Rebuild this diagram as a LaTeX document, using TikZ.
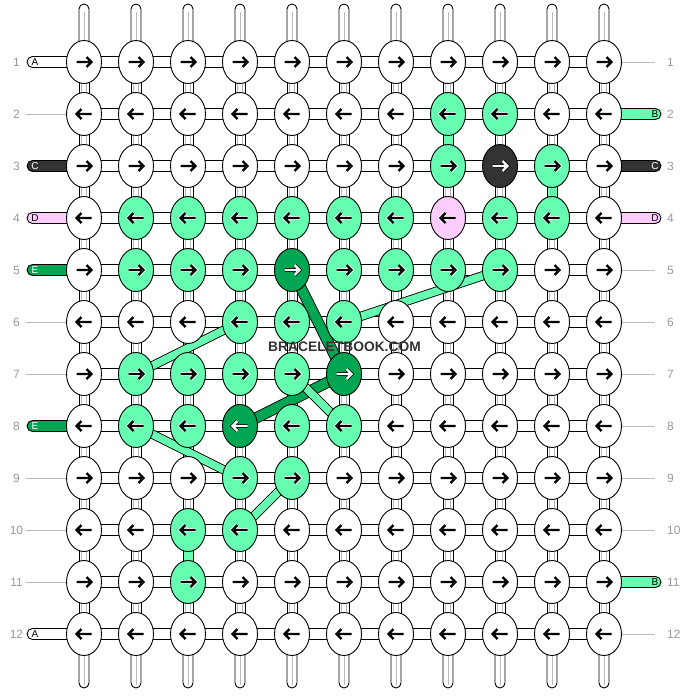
\documentclass[tikz,border=0pt]{standalone}
\usepackage{fontspec}
\setmainfont{Liberation Sans}
\usetikzlibrary{calc,shapes.geometric}
\definecolor{lg}{HTML}{66FFB2}
\definecolor{dg}{HTML}{00A651}
\definecolor{bk}{HTML}{333333}
\definecolor{pk}{HTML}{FFCCFF}
\definecolor{wh}{HTML}{FFFFFF}
\definecolor{numgray}{HTML}{999999}
\definecolor{guidegray}{HTML}{BBBBBB}
\definecolor{wmgray}{HTML}{333333}
% knot colours
\newcommand\setkc[3]{\expandafter\def\csname kc-#1-#2\endcsname{#3}}
\setkc{2}{8}{lg}\setkc{2}{9}{lg}
\setkc{3}{8}{lg}\setkc{3}{9}{bk}\setkc{3}{10}{lg}
\setkc{4}{2}{lg}\setkc{4}{3}{lg}\setkc{4}{4}{lg}\setkc{4}{5}{lg}\setkc{4}{6}{lg}\setkc{4}{7}{lg}\setkc{4}{8}{pk}\setkc{4}{9}{lg}\setkc{4}{10}{lg}
\setkc{5}{2}{lg}\setkc{5}{3}{lg}\setkc{5}{4}{lg}\setkc{5}{5}{dg}\setkc{5}{6}{lg}\setkc{5}{7}{lg}\setkc{5}{8}{lg}\setkc{5}{9}{lg}
\setkc{6}{4}{lg}\setkc{6}{5}{lg}\setkc{6}{6}{lg}
\setkc{7}{2}{lg}\setkc{7}{3}{lg}\setkc{7}{4}{lg}\setkc{7}{5}{lg}\setkc{7}{6}{dg}
\setkc{8}{2}{lg}\setkc{8}{3}{lg}\setkc{8}{4}{dg}\setkc{8}{5}{lg}\setkc{8}{6}{lg}
\setkc{9}{4}{lg}\setkc{9}{5}{lg}
\setkc{10}{3}{lg}\setkc{10}{4}{lg}
\setkc{11}{3}{lg}
% arrow colours per knot colour
\expandafter\def\csname af-wh\endcsname{black}\expandafter\def\csname ah-wh\endcsname{white}
\expandafter\def\csname af-lg\endcsname{black}\expandafter\def\csname ah-lg\endcsname{white}
\expandafter\def\csname af-pk\endcsname{black}\expandafter\def\csname ah-pk\endcsname{white}
\expandafter\def\csname af-dg\endcsname{white}\expandafter\def\csname ah-dg\endcsname{black}
\expandafter\def\csname af-bk\endcsname{white}\expandafter\def\csname ah-bk\endcsname{black}
% coloured vertical bridges (between row j and j+1 in column i)
\newcommand\setvb[3]{\expandafter\def\csname vb-#1-#2\endcsname{#3}}
\setvb{2}{8}{lg}\setvb{3}{10}{lg}\setvb{10}{3}{lg}
\newcommand\knotarrR[3]{%
  \draw[line width=3.8pt,#3,line join=miter] ($(#1)+(-7.5,0)$) -- ($(#1)+(7.5,0)$)
     ($(#1)+(2.5,-5)$) -- ($(#1)+(7.5,0)$) -- ($(#1)+(2.5,5)$);
  \draw[line width=2.2pt,#2,line join=miter] ($(#1)+(-7.5,0)$) -- ($(#1)+(7.5,0)$)
     ($(#1)+(2.5,-5)$) -- ($(#1)+(7.5,0)$) -- ($(#1)+(2.5,5)$);}
\newcommand\knotarrL[3]{%
  \draw[line width=3.8pt,#3,line join=miter] ($(#1)+(7.5,0)$) -- ($(#1)+(-7.5,0)$)
     ($(#1)+(-2.5,-5)$) -- ($(#1)+(-7.5,0)$) -- ($(#1)+(-2.5,5)$);
  \draw[line width=2.2pt,#2,line join=miter] ($(#1)+(7.5,0)$) -- ($(#1)+(-7.5,0)$)
     ($(#1)+(-2.5,-5)$) -- ($(#1)+(-7.5,0)$) -- ($(#1)+(-2.5,5)$);}
\tikzset{
  knot/.style={ellipse,draw=black,line width=0.9pt,minimum width=35pt,minimum height=43pt,inner sep=0pt},
  bridge/.style={draw=black,line width=0.9pt,fill=white},
  strandline/.style={draw=guidegray,line width=0.8pt},
  guide/.style={draw=guidegray,line width=0.8pt},
  rownum/.style={text=numgray,font=\fontsize{12}{14}\selectfont,inner sep=0pt},
  strandlabel/.style={font=\fontsize{10}{12}\selectfont,inner sep=0pt},
}
\begin{document}
\begin{tikzpicture}[x=1pt,y=-1pt]
\useasboundingbox (0,0) rectangle (688,696);
\fill[white] (0,0) rectangle (688,696);
% centre coordinates
\foreach \j in {1,...,12}{\foreach \i in {1,...,11}{
  \coordinate (c-\j-\i) at ({32+52*\i},{10+52*\j});}}
% top and bottom strands
\foreach \i in {1,...,11}{
  \draw[bridge] ($(c-1-\i)+(-5,0)$) -- ($(c-1-\i)+(-5,-53)$) arc(180:360:5) -- ($(c-1-\i)+(5,0)$) -- cycle;
  \draw[strandline] ($(c-1-\i)+(0,-50)$) -- (c-1-\i);
  \draw[bridge] ($(c-12-\i)+(-5,0)$) -- ($(c-12-\i)+(-5,49)$) arc(180:0:5) -- ($(c-12-\i)+(5,0)$) -- cycle;
  \draw[strandline] ($(c-12-\i)+(0,51)$) -- (c-12-\i);
}
% horizontal bridges
\foreach \j in {1,...,12}{\foreach \i [evaluate=\i as \ii using int(\i+1)] in {1,...,10}{
  \draw[bridge] ($(c-\j-\i)+(0,-5.5)$) rectangle ($(c-\j-\ii)+(0,5.5)$);}}
% vertical bridges
\foreach \j [evaluate=\j as \jj using int(\j+1)] in {1,...,11}{\foreach \i in {1,...,11}{
  \ifcsname vb-\j-\i\endcsname
    \edef\vbc{\csname vb-\j-\i\endcsname}
    \draw[bridge,fill=\vbc] ($(c-\j-\i)+(-5,0)$) rectangle ($(c-\jj-\i)+(5,0)$);
  \else
    \draw[bridge] ($(c-\j-\i)+(-5,0)$) rectangle ($(c-\jj-\i)+(5,0)$);
    \draw[strandline] ($(c-\j-\i)+(-2.3,0)$) -- ($(c-\jj-\i)+(-2.3,0)$);
    \draw[strandline] ($(c-\j-\i)+(2.3,0)$) -- ($(c-\jj-\i)+(2.3,0)$);
  \fi}}
% left strands
\foreach \j/\col/\lab/\tc in {1/wh/A/black,3/bk/C/white,4/pk/D/black,5/dg/E/white,8/dg/E/white,12/wh/A/black}{
  \draw[bridge,fill=\col] ($(c-\j-1)+(0,-5.5)$) -- ($(c-\j-1)+(-51.5,-5.5)$) arc(270:90:5.5) -- ($(c-\j-1)+(0,5.5)$) -- cycle;
  \node[strandlabel,text=\tc] (ls-\j) at ($(c-\j-1)+(-49,0.5)$) {\lab};}
% right strands
\foreach \j/\col/\lab/\tc in {2/lg/B/black,3/bk/C/white,4/pk/D/black,11/lg/B/black}{
  \draw[bridge,fill=\col] ($(c-\j-11)+(0,-5.5)$) -- ($(c-\j-11)+(51.5,-5.5)$) arc(270:450:5.5) -- ($(c-\j-11)+(0,5.5)$) -- cycle;
  \node[strandlabel,text=\tc] (rs-\j) at ($(c-\j-11)+(51,0.5)$) {\lab};}
% guide lines
\foreach \j in {2,6,7,9,10,11}{\draw[guide] ($(c-\j-1)+(-58,0)$) -- (c-\j-1);}
\foreach \j in {1,5,6,7,8,9,10,12}{\draw[guide] (c-\j-11) -- ($(c-\j-11)+(51,0)$);}
% row numbers
\foreach \j in {1,...,12}{
  \node[rownum] (ln-\j) at ($(c-\j-1)+(-67.5,0)$) {\j};
  \node[rownum,anchor=west] (rn-\j) at ($(c-\j-11)+(63,0)$) {\j};}
% floating bands
\foreach \a/\b/\c/\w in {c-5-5/c-7-6/dg/9.5,c-7-6/c-8-4/dg/9.5,c-5-9/c-6-6/lg/7.5,c-6-4/c-7-2/lg/7.5,c-7-5/c-8-6/lg/7.5,c-8-2/c-9-4/lg/7.5,c-9-5/c-10-4/lg/7.5}{
  \draw[line width={\w pt+1.8pt},black] (\a) -- (\b);
  \draw[line width=\w pt,\c] (\a) -- (\b);}
% knots
\foreach \j in {1,...,12}{\foreach \i in {1,...,11}{
  \ifcsname kc-\j-\i\endcsname \edef\kc{\csname kc-\j-\i\endcsname}\else \def\kc{wh}\fi
  \node[knot,fill=\kc] (k-\j-\i) at (c-\j-\i) {};
  \edef\af{\csname af-\kc\endcsname}\edef\ah{\csname ah-\kc\endcsname}
  \ifodd\j \knotarrR{k-\j-\i}{\af}{\ah}\else \knotarrL{k-\j-\i}{\af}{\ah}\fi
}}
% watermark
\node[text=wmgray,font=\fontsize{13.8}{15}\selectfont\bfseries,inner sep=0pt] (wmtext) at (344.5,347) {BRACELETBOOK.COM};
\end{tikzpicture}
\end{document}
